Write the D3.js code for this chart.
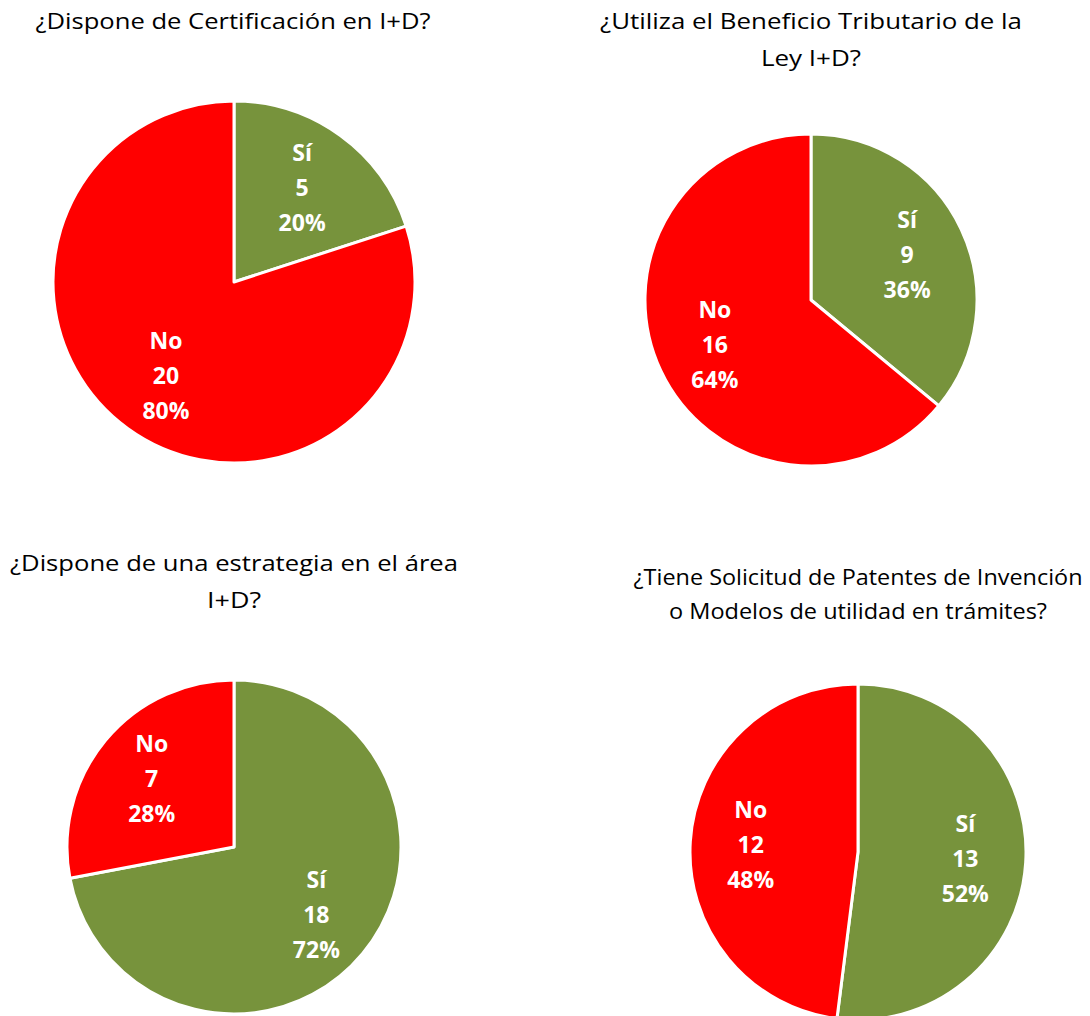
<!DOCTYPE html>
<html>
<head>
<meta charset="utf-8">
<script src="https://cdn.jsdelivr.net/npm/d3@7"></script>
<style>
  body { margin: 0; background: #fff; }
  text { font-family: "Open Sans", sans-serif; }
</style>
</head>
<body>
<svg id="chart" width="1090" height="1016"></svg>
<script>
// data
const categories = ["Sí", "No"];
const titles = [
  ["¿Dispone de Certificación en I+D?"],
  ["¿Utiliza el Beneficio Tributario de la", "Ley I+D?"],
  ["¿Dispone de una estrategia en el área", "I+D?"],
  ["¿Tiene Solicitud de Patentes de Invención", "o Modelos de utilidad en trámites?"]
];
const siValues = [5, 9, 18, 13];
const noValues = [20, 16, 7, 12];

const colors = { "Sí": "#77933c", "No": "#ff0000" };

// layout of each panel (title line widths, the fonts differ)
const panels = [
  { cx: 234, cy: 282, r: 181, tx: 233, ty: 29, fs: 22, lh: 37, tw: [395] },
  { cx: 811, cy: 300, r: 166, tx: 811, ty: 29, fs: 22, lh: 37, tw: [422, 100] },
  { cx: 234, cy: 847, r: 167, tx: 234, ty: 571, fs: 22, lh: 37, tw: [448, 54] },
  { cx: 858, cy: 852, r: 168, tx: 858, ty: 585, fs: 21, lh: 34, tw: [449, 378] }
];

const svg = d3.select("#chart");
svg.append("rect").attr("width", 1090).attr("height", 1016).attr("fill", "#fff");

const pie = d3.pie().sort(null).value(d => d.value);

panels.forEach((p, i) => {
  const data = categories.map((c, k) => ({ cat: c, value: k === 0 ? siValues[i] : noValues[i] }));
  const total = d3.sum(data, d => d.value);
  const arcs = pie(data);
  const arc = d3.arc().innerRadius(0).outerRadius(p.r);
  const labelArc = d3.arc().innerRadius(p.r * 0.64).outerRadius(p.r * 0.64);

  const g = svg.append("g");

  g.selectAll("text.title")
    .data(titles[i])
    .join("text")
    .attr("class", "title")
    .attr("x", p.tx)
    .attr("y", (d, j) => p.ty + j * p.lh)
    .attr("text-anchor", "middle")
    .attr("font-size", p.fs)
    .attr("textLength", (d, j) => p.tw[j])
    .attr("lengthAdjust", "spacingAndGlyphs")
    .attr("fill", "#000")
    .text(d => d);

  const pg = g.append("g").attr("transform", `translate(${p.cx},${p.cy})`);

  pg.selectAll("path")
    .data(arcs)
    .join("path")
    .attr("d", arc)
    .attr("fill", d => colors[d.data.cat])
    .attr("stroke", "#fff")
    .attr("stroke-width", 3)
    .attr("stroke-linejoin", "round");

  const lbl = pg.selectAll("g.lbl")
    .data(arcs)
    .join("g")
    .attr("class", "lbl")
    .attr("transform", d => `translate(${labelArc.centroid(d)})`);

  lbl.each(function (d) {
    const lines = [d.data.cat, d.data.value, Math.round(d.data.value / total * 100) + "%"];
    d3.select(this).selectAll("text")
      .data(lines)
      .join("text")
      .attr("x", 0)
      .attr("y", (t, j) => (j - 1) * 35 + 8)
      .attr("text-anchor", "middle")
      .attr("font-size", 23)
      .attr("font-weight", "bold")
      .attr("fill", "#fff")
      .text(t => t);
  });
});
</script>
</body>
</html>
